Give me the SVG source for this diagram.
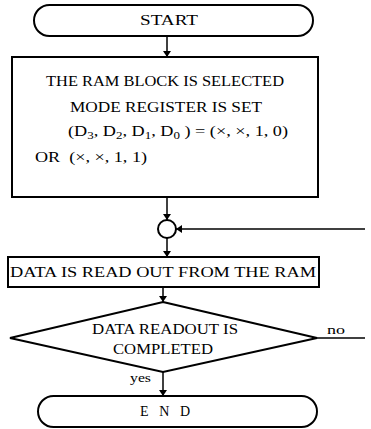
<svg xmlns="http://www.w3.org/2000/svg" width="371" height="429" viewBox="0 0 371 429">
<defs>
<marker id="ah" markerWidth="6" markerHeight="8" refX="6" refY="4" orient="auto" markerUnits="userSpaceOnUse">
<path d="M0,0 L6,4 L0,8 Z" fill="#000"/>
</marker>
<style>
.s{fill:#fff;stroke:#000;stroke-width:2}
.c{fill:none;stroke:#000;stroke-width:1.5}
.t{font-family:"Liberation Serif",serif;font-size:14px;fill:#000}
.m{text-anchor:middle}
.sm{font-size:12px}
</style>
</defs>
<rect width="371" height="429" fill="#fff"/>
<g id="connectors">
<line class="c" x1="167" y1="36" x2="167" y2="57" marker-end="url(#ah)"/>
<line class="c" x1="167" y1="197" x2="167" y2="220" marker-end="url(#ah)"/>
<line class="c" x1="365" y1="229" x2="176" y2="229" marker-end="url(#ah)"/>
<line class="c" x1="167" y1="238" x2="167" y2="257" marker-end="url(#ah)"/>
<line class="c" x1="163" y1="287" x2="163" y2="302" marker-end="url(#ah)"/>
<line class="c" x1="317" y1="338" x2="365" y2="338"/>
<line class="c" x1="163" y1="372" x2="163" y2="396" marker-end="url(#ah)"/>
<text class="t sm" x="327" y="334" textLength="18" lengthAdjust="spacingAndGlyphs">no</text>
<text class="t sm" x="130" y="382" textLength="21" lengthAdjust="spacingAndGlyphs">yes</text>
</g>
<g id="start">
<rect class="s" x="34" y="5" width="279" height="31" rx="15.5"/>
<text class="t m" x="169" y="25" textLength="58" lengthAdjust="spacingAndGlyphs">START</text>
</g>
<g id="select">
<rect class="s" x="12" y="57" width="306" height="140"/>
<text class="t m" x="165" y="86" textLength="238" lengthAdjust="spacingAndGlyphs">THE RAM BLOCK IS SELECTED</text>
<text class="t m" x="166" y="112" textLength="192" lengthAdjust="spacingAndGlyphs">MODE REGISTER IS SET</text>
<text class="t" x="68" y="136" textLength="220" lengthAdjust="spacingAndGlyphs">(D<tspan font-size="10" dy="3">3</tspan><tspan dy="-3">, D</tspan><tspan font-size="10" dy="3">2</tspan><tspan dy="-3">, D</tspan><tspan font-size="10" dy="3">1</tspan><tspan dy="-3">, D</tspan><tspan font-size="10" dy="3">0</tspan><tspan dy="-3"> ) = (×, ×, 1, 0)</tspan></text>
<text class="t" x="35" y="162" textLength="112" lengthAdjust="spacingAndGlyphs" xml:space="preserve">OR  (×, ×, 1, 1)</text>
</g>
<g id="merge">
<circle class="s" cx="167" cy="229" r="9"/>
</g>
<g id="read">
<rect class="s" x="8" y="257" width="311" height="30"/>
<text class="t m" x="163" y="277" textLength="306" lengthAdjust="spacingAndGlyphs">DATA IS READ OUT FROM THE RAM</text>
</g>
<g id="decision">
<polygon class="s" points="163,302 317,338 163,372 10,338"/>
<text class="t m" x="165" y="334" textLength="146" lengthAdjust="spacingAndGlyphs">DATA READOUT IS</text>
<text class="t m" x="163" y="354" textLength="100" lengthAdjust="spacingAndGlyphs">COMPLETED</text>
</g>
<g id="end">
<rect class="s" x="38" y="396" width="279" height="31" rx="15.5"/>
<text class="t m" x="165" y="416" textLength="50" lengthAdjust="spacing">E N D</text>
</g>
</svg>
